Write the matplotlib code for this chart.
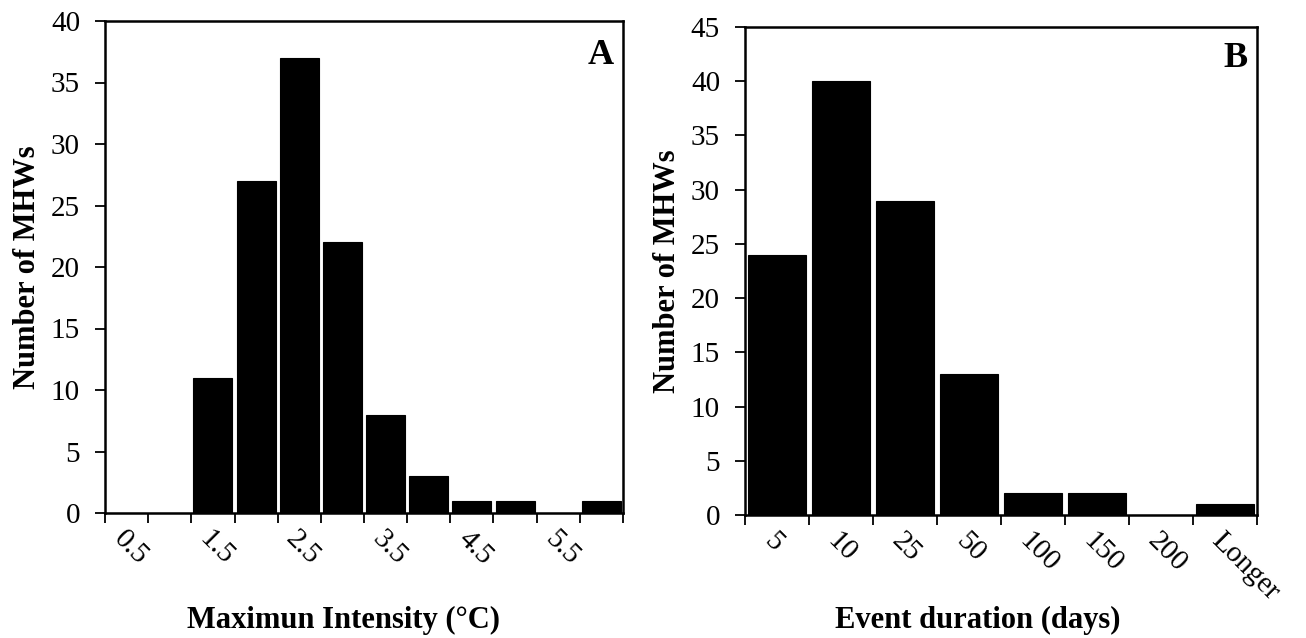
import matplotlib.pyplot as plt
import numpy as np

plt.rcParams['font.family'] = ['Liberation Serif', 'DejaVu Serif']

# Panel A: maximum intensity histogram
intensity_bins = ['0.5', '1', '1.5', '2', '2.5', '3', '3.5', '4', '4.5', '5', '5.5', '6']
intensity_counts = [0, 0, 11, 27, 37, 22, 8, 3, 1, 1, 0, 1]

# Panel B: event duration histogram
duration_bins = ['5', '10', '25', '50', '100', '150', '200', 'Longer']
duration_counts = [24, 40, 29, 13, 2, 2, 0, 1]

W, H = 1306, 638
fig = plt.figure(figsize=(W / 100, H / 100), dpi=100)
axA = fig.add_axes([105 / W, 1 - 513 / H, (623 - 105) / W, (513 - 21) / H])
axB = fig.add_axes([745 / W, 1 - 515 / H, (1257 - 745) / W, (515 - 27) / H])


def draw_hist(ax, bins, counts, ymax, label_step, xlabel, letter,
              bottom_px, height_px, xlabel_x, letter_dy):
    x = np.arange(len(bins))
    ax.bar(x, counts, width=0.9, color='black', edgecolor='black', linewidth=0.8)
    ax.set_xlim(-0.5, len(bins) - 0.5)
    ax.set_ylim(0, ymax)
    ax.set_yticks(np.arange(0, ymax + 1, 5))

    # labels at category centres, tick marks at the bin edges
    ax.set_xticks(x[::label_step])
    ax.set_xticklabels(bins[::label_step], rotation=-45, ha='left', va='top',
                       rotation_mode='anchor')
    ax.set_xticks(np.arange(len(bins) + 1) - 0.5, minor=True)
    ax.tick_params(axis='x', which='major', length=0, pad=9, labelsize=21)
    ax.tick_params(axis='x', which='minor', length=7, width=1.3, direction='out')
    ax.tick_params(axis='y', length=7, width=1.3, direction='out', labelsize=21, pad=11)

    for s in ax.spines.values():
        s.set_linewidth(1.8)

    ax.set_ylabel('Number of MHWs', fontsize=22, fontweight='bold', labelpad=6)
    ax.set_xlabel(xlabel, fontsize=22, fontweight='bold')
    ax.xaxis.set_label_coords(xlabel_x, -(620 - bottom_px) / height_px)
    ax.xaxis.label.set_verticalalignment('center')
    ax.annotate(letter, xy=(1, 1), xycoords='axes fraction',
                xytext=(-6.5, letter_dy), textcoords='offset points',
                ha='right', va='top', fontsize=26, fontweight='bold')


draw_hist(axA, intensity_bins, intensity_counts, 40, 2, 'Maximun Intensity (°C)', 'A',
          513, 492, 0.46, -13)
draw_hist(axB, duration_bins, duration_counts, 45, 1, 'Event duration (days)', 'B',
          515, 488, 0.455, -11)

fig.savefig('out.png', dpi=100)
